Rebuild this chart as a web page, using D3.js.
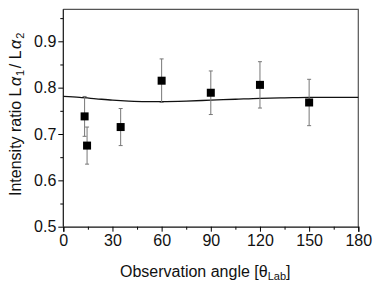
<!DOCTYPE html>
<html>
<head>
<meta charset="utf-8">
<script src="https://cdn.jsdelivr.net/npm/d3@7"></script>
<style>
body { margin: 0; background: #fff; }
svg text { font-family: "Liberation Sans", Arial, sans-serif; fill: #111; }
</style>
</head>
<body>
<svg id="chart" width="374" height="283"></svg>
<script>
// measured points
var angles = [13, 14.5, 35, 60, 90, 120, 150];
var ratios = [0.738, 0.675, 0.715, 0.815, 0.789, 0.806, 0.768];
var errors = [0.043, 0.04, 0.04, 0.047, 0.047, 0.05, 0.05];

// theory curve
var curveX = [0, 10, 20, 30, 40, 50, 60, 75, 90, 105, 120, 135, 150, 165, 180];
var curveY = [0.781, 0.779, 0.776, 0.773, 0.771, 0.770, 0.770, 0.771, 0.773, 0.775, 0.777, 0.778, 0.779, 0.779, 0.779];

var xTicks = [0, 30, 60, 90, 120, 150, 180];
var yTicks = [0.5, 0.6, 0.7, 0.8, 0.9];
var xMinor = [15, 45, 75, 105, 135, 165];
var yMinor = [0.55, 0.65, 0.75, 0.85, 0.95];

var svg = d3.select("#chart");
var pLeft = 63.3, pRight = 358.3, pTop = 9.3, pBottom = 226.7;

var x = d3.scaleLinear().domain([0, 180]).range([pLeft, pRight]);
var y = d3.scaleLinear().domain([0.5, 0.9]).range([pBottom, 41.3]);

// frame top/right
svg.append("path")
	.attr("d", "M" + pLeft + "," + pTop + "H" + pRight + "V" + pBottom)
	.attr("fill", "none").attr("stroke", "#555").attr("stroke-width", 1.2);

// x axis
svg.append("g").attr("transform", "translate(0," + pBottom + ")")
	.call(d3.axisBottom(x).tickValues(xMinor).tickSize(3).tickFormat(""))
	.select(".domain").remove();
var xAxis = svg.append("g").attr("transform", "translate(0," + pBottom + ")")
	.call(d3.axisBottom(x).tickValues(xTicks).tickSize(5).tickPadding(3).tickFormat(d3.format("d")));
xAxis.selectAll("text").attr("font-size", "16px").attr("dy", "0.71em");
xAxis.selectAll(".domain").attr("stroke", "#111").attr("stroke-width", 1.2);

// y axis
svg.append("g").attr("transform", "translate(" + pLeft + ",0)")
	.call(d3.axisLeft(y).tickValues(yMinor).tickSize(3).tickFormat(""))
	.select(".domain").remove();
var yAxis = svg.append("g").attr("transform", "translate(" + pLeft + ",0)")
	.call(d3.axisLeft(y).tickValues(yTicks).tickSize(5).tickPadding(2).tickFormat(d3.format(".1f")));
yAxis.selectAll(".domain").remove();
yAxis.append("line").attr("x1", 0).attr("x2", 0).attr("y1", pTop).attr("y2", pBottom)
	.attr("stroke", "#111").attr("stroke-width", 1.2);
yAxis.selectAll("text").attr("font-size", "16px");

// theory line
var line = d3.line().x(function(d, i) { return x(curveX[i]); }).y(function(d) { return y(d); }).curve(d3.curveMonotoneX);
svg.append("path").datum(curveY).attr("d", line)
	.attr("fill", "none").attr("stroke", "#111").attr("stroke-width", 1.3);

// error bars
var eb = svg.append("g").attr("stroke", "#777").attr("stroke-width", 1);
angles.forEach(function(a, i) {
	var cx = x(a), y1 = y(ratios[i] + errors[i]), y2 = y(ratios[i] - errors[i]);
	eb.append("line").attr("x1", cx).attr("x2", cx).attr("y1", y1).attr("y2", y2);
	eb.append("line").attr("x1", cx - 2).attr("x2", cx + 2).attr("y1", y1).attr("y2", y1);
	eb.append("line").attr("x1", cx - 2).attr("x2", cx + 2).attr("y1", y2).attr("y2", y2);
});

// markers
svg.selectAll("rect.pt").data(angles).enter().append("rect")
	.attr("class", "pt")
	.attr("x", function(d) { return x(d) - 4; })
	.attr("y", function(d, i) { return y(ratios[i]) - 4; })
	.attr("width", 8).attr("height", 8).attr("fill", "#000");

// axis titles
var xt = svg.append("text").attr("x", 120).attr("y", 277).attr("font-size", "16px");
xt.append("tspan").text("Observation angle [θ");
xt.append("tspan").attr("font-size", "11px").attr("dy", "3").text("Lab");
xt.append("tspan").attr("dy", "-3").text("]");

var yt = svg.append("text").attr("transform", "translate(21,196) rotate(-90)").attr("font-size", "16px");
yt.append("tspan").text("Intensity ratio L");
yt.append("tspan").attr("dx", "1.5").attr("font-style", "italic").text("α");
yt.append("tspan").attr("font-size", "11px").attr("dy", "3").attr("dx", "1").text("1");
yt.append("tspan").attr("dy", "-3").attr("dx", "1.5").text("/ L");
yt.append("tspan").attr("dx", "1.5").attr("font-style", "italic").text("α");
yt.append("tspan").attr("font-size", "11px").attr("dy", "3").attr("dx", "1").text("2");
</script>
</body>
</html>
